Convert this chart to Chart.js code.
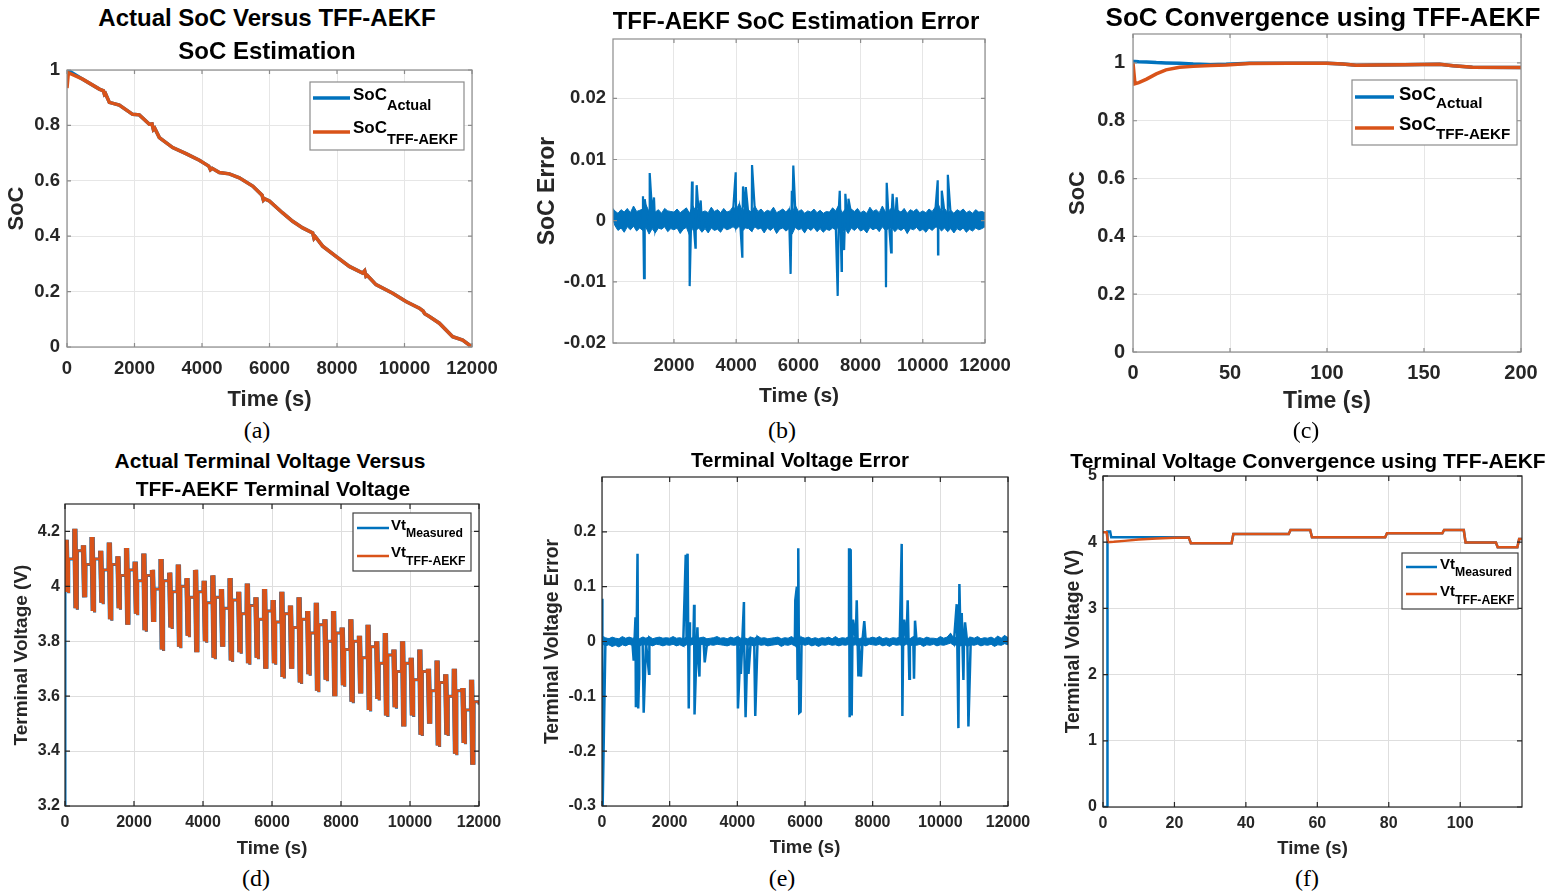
<!DOCTYPE html>
<html>
<head>
<meta charset="utf-8">
<title>TFF-AEKF SoC and terminal voltage</title>
<script src="https://cdn.jsdelivr.net/npm/chart.js@4.4.1/dist/chart.umd.min.js"></script>
<style>
  html, body { margin: 0; padding: 0; background: #fff; }
  body { position: relative; width: 1567px; height: 893px; overflow: hidden; font-family: "Liberation Sans", Arial, sans-serif; }
  canvas { position: absolute; }
  .ttl { position: absolute; font-weight: bold; color: #000; white-space: nowrap; line-height: 1; transform: translate(-50%, -50%); }
  .cap { position: absolute; font-family: "Liberation Serif", "Times New Roman", serif; font-size: 24px; line-height: 1; color: #000; transform: translate(-50%, -50%); }
</style>
</head>
<body>
<canvas id="chartA"></canvas>
<canvas id="chartB"></canvas>
<canvas id="chartC"></canvas>
<canvas id="chartD"></canvas>
<canvas id="chartE"></canvas>
<canvas id="chartF"></canvas>

<div class="ttl" style="left:267px;top:18px;font-size:24px">Actual SoC Versus TFF-AEKF</div>
<div class="ttl" style="left:267px;top:51px;font-size:24px">SoC Estimation</div>
<div class="ttl" style="left:796px;top:21px;font-size:24px">TFF-AEKF SoC Estimation Error</div>
<div class="ttl" style="left:1323px;top:17px;font-size:26px">SoC Convergence using TFF-AEKF</div>
<div class="ttl" style="left:270px;top:460px;font-size:21px">Actual Terminal Voltage Versus</div>
<div class="ttl" style="left:273px;top:488px;font-size:21px">TFF-AEKF Terminal Voltage</div>
<div class="ttl" style="left:800px;top:460px;font-size:20.5px">Terminal Voltage Error</div>
<div class="ttl" style="left:1308px;top:460px;font-size:21px">Terminal Voltage Convergence using TFF-AEKF</div>

<div class="cap" style="left:257px;top:430px">(a)</div>
<div class="cap" style="left:782px;top:430px">(b)</div>
<div class="cap" style="left:1306px;top:430px">(c)</div>
<div class="cap" style="left:256px;top:878px">(d)</div>
<div class="cap" style="left:782px;top:878px">(e)</div>
<div class="cap" style="left:1307px;top:878px">(f)</div>

<script>
Chart.defaults.font.family = '"Liberation Sans", Arial, sans-serif';
const BLUE = '#0072BD';
const ORANGE = '#D95319';
const INK = '#262626';

// tick lists
const timeTicks = [0, 2000, 4000, 6000, 8000, 10000, 12000];
const timeLabels = ['0', '2000', '4000', '6000', '8000', '10000', '12000'];
const bTimeTicks = [2000, 4000, 6000, 8000, 10000, 12000];
const bTimeLabels = ['2000', '4000', '6000', '8000', '10000', '12000'];
const socTicks = [0, 0.2, 0.4, 0.6, 0.8, 1];
const socLabels = ['0', '0.2', '0.4', '0.6', '0.8', '1'];
const bErrTicks = [-0.02, -0.01, 0, 0.01, 0.02];
const bErrLabels = ['-0.02', '-0.01', '0', '0.01', '0.02'];
const cTimeTicks = [0, 50, 100, 150, 200];
const cTimeLabels = ['0', '50', '100', '150', '200'];
const dVoltTicks = [3.2, 3.4, 3.6, 3.8, 4.0, 4.2];
const dVoltLabels = ['3.2', '3.4', '3.6', '3.8', '4', '4.2'];
const eErrTicks = [-0.3, -0.2, -0.1, 0, 0.1, 0.2];
const eErrLabels = ['-0.3', '-0.2', '-0.1', '0', '0.1', '0.2'];
const fTimeTicks = [0, 20, 40, 60, 80, 100];
const fTimeLabels = ['0', '20', '40', '60', '80', '100'];
const fVoltTicks = [0, 1, 2, 3, 4, 5];
const fVoltLabels = ['0', '1', '2', '3', '4', '5'];

// (a) SoC actual vs TFF-AEKF
const socTime = [0, 40, 464, 958, 1080, 1110, 1140, 1254, 1550, 1945, 2143, 2440, 2520, 2560, 2600, 2736, 3131, 3526, 3921, 4200,
  4250, 4300, 4514, 4810, 5106, 5501, 5780, 5820, 5860, 5995, 6390, 6686, 6983, 7279, 7320, 7360, 7575, 7970, 8365, 8760,
  8820, 8860, 8900, 9155, 9649, 10044, 10440, 10550, 10600, 10736, 11032, 11427, 11723, 12000];
const socActual = [1.0, 0.998, 0.967, 0.931, 0.925, 0.912, 0.915, 0.883, 0.873, 0.84, 0.838, 0.804, 0.805, 0.785, 0.79, 0.756, 0.72, 0.698, 0.674, 0.653,
  0.64, 0.645, 0.63, 0.625, 0.611, 0.581, 0.548, 0.53, 0.535, 0.527, 0.484, 0.454, 0.43, 0.412, 0.392, 0.398, 0.364, 0.327, 0.291, 0.267,
  0.275, 0.255, 0.258, 0.225, 0.194, 0.164, 0.14, 0.13, 0.12, 0.11, 0.086, 0.037, 0.025, 0.0];
const socEstimate = [0.935, 0.99, 0.967, 0.931, 0.925, 0.912, 0.915, 0.883, 0.873, 0.84, 0.838, 0.804, 0.805, 0.785, 0.79, 0.756, 0.72, 0.698, 0.674, 0.653,
  0.64, 0.645, 0.63, 0.625, 0.611, 0.581, 0.548, 0.53, 0.535, 0.527, 0.484, 0.454, 0.43, 0.412, 0.392, 0.398, 0.364, 0.327, 0.291, 0.267,
  0.275, 0.255, 0.258, 0.225, 0.194, 0.164, 0.14, 0.13, 0.12, 0.11, 0.086, 0.037, 0.025, 0.0];

// (b) SoC error: samples every 100 s, a noise band (upper/lower edge) and spikes [time, error]
const noiseStep = 100;
const bErrNoise = [
  0.0015, 0.0008, -0.0006, 0.0004, -0.0012, 0.0010, -0.0003, 0.0016, -0.0008, 0.0006,
  -0.0010, 0.0020, -0.0005, 0.0012, -0.0014, 0.0007, -0.0002, 0.0013, -0.0011, 0.0004,
  -0.0007, 0.0011, -0.0013, 0.0009, 0.0002, -0.0016, 0.0018, -0.0004, 0.0010, -0.0009,
  0.0005, -0.0012, 0.0014, -0.0003, 0.0008, -0.0010, 0.0012, -0.0006, 0.0003, 0.0015,
  -0.0004, 0.0021, -0.0008, 0.0013, 0.0006, -0.0009, 0.0017, -0.0002, 0.0011, -0.0012,
  0.0007, -0.0005, 0.0014, -0.0013, 0.0003, 0.0010, -0.0008, 0.0012, -0.0015, 0.0018,
  -0.0006, 0.0009, -0.0014, 0.0005, -0.0003, 0.0011, -0.0010, 0.0007, -0.0012, 0.0004,
  -0.0008, 0.0013, -0.0005, 0.0019, -0.0011, 0.0008, -0.0013, 0.0010, -0.0004, 0.0012,
  -0.0009, 0.0006, -0.0012, 0.0014, -0.0003, 0.0009, -0.0010, 0.0016, -0.0007, 0.0005,
  0.0013, -0.0011, 0.0008, -0.0006, 0.0012, -0.0014, 0.0007, -0.0002, 0.0011, -0.0009,
  0.0006, -0.0012, 0.0010, -0.0005, 0.0014, 0.0020, -0.0008, 0.0012, -0.0010, 0.0007,
  -0.0013, 0.0009, -0.0004, 0.0011, -0.0012, 0.0006, -0.0009, 0.0010, -0.0007, 0.0004,
  -0.0002];
const bBandUpper = [
  0.0022, 0.0016, 0.0012, 0.0018, 0.0014, 0.0020, 0.0013, 0.0024, 0.0015, 0.0017,
  0.0019, 0.0026, 0.0015, 0.0021, 0.0014, 0.0018, 0.0012, 0.0020, 0.0016, 0.0015,
  0.0014, 0.0019, 0.0013, 0.0017, 0.0021, 0.0012, 0.0025, 0.0016, 0.0019, 0.0014,
  0.0016, 0.0013, 0.0022, 0.0015, 0.0018, 0.0013, 0.0020, 0.0014, 0.0016, 0.0023,
  0.0018, 0.0028, 0.0016, 0.0021, 0.0017, 0.0014, 0.0024, 0.0015, 0.0019, 0.0013,
  0.0017, 0.0015, 0.0022, 0.0013, 0.0016, 0.0019, 0.0014, 0.0020, 0.0012, 0.0025,
  0.0015, 0.0018, 0.0012, 0.0016, 0.0014, 0.0019, 0.0013, 0.0017, 0.0012, 0.0015,
  0.0014, 0.0021, 0.0016, 0.0026, 0.0013, 0.0018, 0.0012, 0.0019, 0.0015, 0.0020,
  0.0013, 0.0016, 0.0012, 0.0022, 0.0015, 0.0018, 0.0013, 0.0024, 0.0014, 0.0016,
  0.0021, 0.0013, 0.0017, 0.0014, 0.0020, 0.0012, 0.0018, 0.0015, 0.0019, 0.0013,
  0.0016, 0.0013, 0.0019, 0.0015, 0.0022, 0.0027, 0.0014, 0.0020, 0.0013, 0.0017,
  0.0012, 0.0018, 0.0015, 0.0019, 0.0013, 0.0016, 0.0012, 0.0018, 0.0014, 0.0015,
  0.0013];
const bBandLower = [
  0.0008, -0.0008, -0.0016, -0.0012, -0.0019, -0.0010, -0.0015, -0.0009, -0.0017, -0.0012,
  -0.0016, -0.0011, -0.0022, -0.0013, -0.0020, -0.0012, -0.0014, -0.0010, -0.0018, -0.0013,
  -0.0015, -0.0012, -0.0021, -0.0014, -0.0011, -0.0024, -0.0013, -0.0016, -0.0012, -0.0019,
  -0.0013, -0.0020, -0.0012, -0.0016, -0.0014, -0.0019, -0.0011, -0.0015, -0.0013, -0.0010,
  -0.0014, -0.0009, -0.0017, -0.0012, -0.0013, -0.0018, -0.0010, -0.0014, -0.0012, -0.0020,
  -0.0012, -0.0016, -0.0011, -0.0021, -0.0014, -0.0012, -0.0017, -0.0013, -0.0022, -0.0011,
  -0.0015, -0.0013, -0.0020, -0.0012, -0.0016, -0.0011, -0.0018, -0.0013, -0.0019, -0.0014,
  -0.0016, -0.0012, -0.0015, -0.0010, -0.0019, -0.0013, -0.0021, -0.0012, -0.0016, -0.0011,
  -0.0017, -0.0014, -0.0020, -0.0011, -0.0015, -0.0012, -0.0018, -0.0010, -0.0016, -0.0013,
  -0.0011, -0.0018, -0.0013, -0.0016, -0.0012, -0.0021, -0.0013, -0.0015, -0.0011, -0.0017,
  -0.0014, -0.0019, -0.0012, -0.0016, -0.0011, -0.0010, -0.0017, -0.0012, -0.0018, -0.0013,
  -0.0020, -0.0013, -0.0016, -0.0012, -0.0019, -0.0014, -0.0017, -0.0012, -0.0015, -0.0013,
  -0.0010];
const bErrSpikes = [
  [1004, 0.0040], [1037, -0.0094], [1060, 0.0035], [1220, 0.0078], [1358, 0.0038],
  [2505, -0.0107], [2580, 0.0064], [2690, -0.0044], [2730, 0.0058], [2860, 0.0033],
  [3985, 0.0079], [4195, -0.0059], [4220, 0.0056], [4310, 0.0055], [4510, 0.0091],
  [5750, -0.0087], [5790, 0.0049], [5837, 0.0090],
  [7264, -0.0123], [7330, 0.0049], [7390, -0.0082], [7470, -0.0048], [7510, 0.0044], [7610, 0.0036],
  [8817, -0.0109], [8840, 0.0062], [8980, -0.0052], [9030, 0.0044], [9160, 0.0038],
  [10480, 0.0066], [10490, -0.0055], [10610, 0.0049], [10650, 0.0033], [10805, 0.0075]];

// (c) SoC convergence, first 200 s
const cTime = [0, 1, 3, 7, 12, 17, 24, 31, 40, 48, 60, 80, 100, 108, 115, 125, 140, 158, 165, 175, 200];
const cActual = [1.005, 1.005, 1.004, 1.003, 1.001, 1.0, 0.999, 0.996, 0.994, 0.995, 0.999, 0.999, 0.999, 0.996, 0.992, 0.993, 0.994, 0.995, 0.99, 0.985, 0.984];
const cEstimate = [1.0, 0.928, 0.932, 0.944, 0.962, 0.976, 0.985, 0.988, 0.991, 0.993, 0.998, 0.999, 0.999, 0.996, 0.992, 0.993, 0.994, 0.995, 0.99, 0.985, 0.984];

// (d) terminal voltage: pulse cycles, top / bottom of each burst and the rest level after it
const dCycleTime = [0, 250, 500, 750, 1000, 1250, 1500, 1750, 2000, 2250, 2500, 2750, 3000, 3250, 3500, 3750,
  4000, 4250, 4500, 4750, 5000, 5250, 5500, 5750, 6000, 6250, 6500, 6750, 7000, 7250, 7500, 7750,
  8000, 8250, 8500, 8750, 9000, 9250, 9500, 9750, 10000, 10250, 10500, 10750, 11000, 11250, 11500, 11750];
const dHigh = [4.17, 4.21, 4.15, 4.18, 4.13, 4.16, 4.11, 4.14, 4.09, 4.12, 4.06, 4.10, 4.05, 4.08, 4.03, 4.06,
  4.02, 4.04, 3.99, 4.03, 3.98, 4.01, 3.96, 3.99, 3.95, 3.98, 3.93, 3.96, 3.91, 3.94, 3.88, 3.91,
  3.85, 3.88, 3.82, 3.86, 3.80, 3.83, 3.77, 3.80, 3.74, 3.77, 3.70, 3.73, 3.68, 3.70, 3.63, 3.66];
const dLow = [3.98, 3.92, 3.96, 3.91, 3.94, 3.88, 3.92, 3.86, 3.90, 3.84, 3.87, 3.77, 3.85, 3.78, 3.82, 3.76,
  3.80, 3.74, 3.78, 3.73, 3.76, 3.72, 3.74, 3.70, 3.72, 3.67, 3.70, 3.65, 3.68, 3.62, 3.66, 3.60,
  3.64, 3.58, 3.61, 3.55, 3.59, 3.53, 3.56, 3.49, 3.53, 3.46, 3.50, 3.42, 3.46, 3.39, 3.43, 3.35];
const dRest = [4.10, 4.13, 4.08, 4.10, 4.06, 4.08, 4.04, 4.06, 4.02, 4.04, 3.99, 4.02, 3.98, 4.00, 3.96, 3.98,
  3.94, 3.96, 3.92, 3.95, 3.90, 3.93, 3.88, 3.91, 3.87, 3.90, 3.85, 3.88, 3.83, 3.86, 3.80, 3.83,
  3.77, 3.80, 3.74, 3.78, 3.72, 3.75, 3.69, 3.72, 3.66, 3.69, 3.62, 3.65, 3.60, 3.62, 3.55, 3.58];
const dEnd = [12000, 3.57];
const dMeasuredStart = [0, 3.0];

// (e) terminal voltage error: samples every 100 s, a noise band and spikes [time, error]
const eErrNoise = [
  0.005, -0.004, 0.003, -0.006, 0.002, -0.003, 0.004, -0.002, 0.005, -0.003,
  0.004, -0.005, 0.003, -0.002, 0.005, -0.004, 0.002, 0.004, -0.003, 0.003,
  -0.002, 0.005, -0.004, 0.003, -0.005, 0.004, -0.003, 0.002, -0.004, 0.003,
  0.004, -0.005, 0.002, -0.003, 0.005, -0.002, 0.003, -0.004, 0.004, -0.003,
  0.005, -0.004, 0.003, -0.002, 0.004, -0.005, 0.006, -0.003, 0.003, -0.004,
  0.002, -0.003, 0.004, -0.005, 0.003, -0.002, 0.005, -0.004, 0.003, 0.005,
  -0.003, 0.004, -0.004, 0.002, -0.005, 0.003, -0.002, 0.004, -0.003, 0.005,
  -0.004, 0.003, -0.002, 0.006, -0.003, 0.004, -0.006, 0.003, -0.004, 0.002,
  0.004, -0.003, 0.005, -0.004, 0.002, -0.005, 0.003, -0.002, 0.004, -0.003,
  0.003, -0.004, 0.005, -0.002, 0.003, -0.005, 0.004, -0.003, 0.002, -0.004,
  0.005, -0.003, 0.004, 0.012, -0.002, 0.005, -0.004, 0.003, -0.005, 0.004,
  -0.003, 0.005, -0.004, 0.003, -0.002, 0.004, -0.005, 0.006, -0.003, 0.008,
  0.002];
const eBandUpper = [
  0.010, 0.007, 0.005, 0.008, 0.006, 0.005, 0.009, 0.006, 0.008, 0.006,
  0.007, 0.005, 0.008, 0.006, 0.009, 0.005, 0.007, 0.008, 0.006, 0.007,
  0.006, 0.009, 0.006, 0.007, 0.005, 0.008, 0.006, 0.007, 0.005, 0.007,
  0.008, 0.005, 0.006, 0.007, 0.009, 0.006, 0.007, 0.005, 0.008, 0.006,
  0.009, 0.006, 0.007, 0.005, 0.008, 0.006, 0.010, 0.006, 0.007, 0.005,
  0.006, 0.007, 0.008, 0.005, 0.007, 0.006, 0.009, 0.005, 0.007, 0.008,
  0.006, 0.008, 0.005, 0.007, 0.005, 0.007, 0.006, 0.008, 0.005, 0.009,
  0.005, 0.007, 0.006, 0.009, 0.006, 0.008, 0.005, 0.007, 0.006, 0.006,
  0.008, 0.006, 0.009, 0.005, 0.007, 0.005, 0.007, 0.006, 0.008, 0.006,
  0.007, 0.005, 0.009, 0.006, 0.007, 0.005, 0.008, 0.006, 0.006, 0.005,
  0.009, 0.006, 0.008, 0.015, 0.006, 0.009, 0.005, 0.007, 0.005, 0.008,
  0.006, 0.009, 0.005, 0.007, 0.006, 0.008, 0.005, 0.010, 0.006, 0.011,
  0.007];
const eBandLower = [
  -0.004, -0.008, -0.006, -0.009, -0.007, -0.010, -0.006, -0.008, -0.005, -0.007,
  -0.006, -0.009, -0.005, -0.007, -0.006, -0.008, -0.005, -0.006, -0.008, -0.006,
  -0.007, -0.005, -0.008, -0.006, -0.009, -0.006, -0.007, -0.005, -0.008, -0.006,
  -0.005, -0.009, -0.006, -0.007, -0.005, -0.006, -0.007, -0.008, -0.006, -0.007,
  -0.006, -0.008, -0.005, -0.007, -0.006, -0.009, -0.005, -0.007, -0.006, -0.008,
  -0.007, -0.006, -0.005, -0.009, -0.006, -0.007, -0.005, -0.008, -0.006, -0.005,
  -0.007, -0.005, -0.008, -0.006, -0.009, -0.006, -0.007, -0.005, -0.007, -0.006,
  -0.008, -0.006, -0.007, -0.005, -0.007, -0.006, -0.009, -0.006, -0.008, -0.005,
  -0.006, -0.007, -0.005, -0.008, -0.006, -0.009, -0.005, -0.007, -0.006, -0.008,
  -0.005, -0.008, -0.006, -0.007, -0.005, -0.009, -0.006, -0.007, -0.005, -0.008,
  -0.006, -0.007, -0.005, -0.003, -0.007, -0.006, -0.008, -0.005, -0.009, -0.006,
  -0.007, -0.005, -0.008, -0.006, -0.007, -0.005, -0.009, -0.006, -0.007, -0.004,
  -0.006];
const eErrSpikes = [
  [2, 0.078], [20, -0.33],
  [937, -0.035], [990, 0.044], [1003, -0.120], [1050, 0.160], [1070, -0.122], [1094, -0.068], [1232, -0.130], [1390, -0.059],
  [2475, 0.158], [2505, 0.150], [2530, 0.160], [2564, -0.122], [2590, 0.035], [2722, 0.067], [2735, -0.133], [2820, 0.026], [2850, -0.035], [2880, -0.064], [3036, -0.038],
  [4018, -0.122], [4105, -0.059], [4195, 0.072], [4244, -0.138], [4330, -0.059], [4530, -0.136],
  [5713, 0.075], [5760, 0.100], [5780, -0.070], [5801, 0.170], [5830, -0.130], [5870, -0.128],
  [7302, 0.170], [7320, -0.138], [7350, 0.168], [7380, -0.135], [7420, 0.040], [7529, 0.075], [7578, -0.064], [7655, -0.064], [7752, 0.037],
  [8858, 0.178], [8878, -0.136], [8930, 0.040], [9035, 0.075], [9084, -0.068], [9222, -0.068], [9252, 0.038],
  [10484, 0.068], [10534, -0.158], [10563, 0.105], [10632, 0.052], [10682, -0.070], [10730, 0.035], [10830, -0.155]];

// (f) terminal voltage convergence
const fMeasTime = [0, 1.2, 1.25, 2.0, 2.3, 24, 24.6, 36, 36.5, 52, 52.5, 58, 58.5, 79, 79.5, 95, 95.5, 101, 101.5, 110, 110.5, 116, 116.5, 117.3];
const fMeasured = [0, 0, 4.16, 4.16, 4.075, 4.075, 3.985, 3.985, 4.125, 4.125, 4.185, 4.185, 4.075, 4.075, 4.135, 4.135, 4.185, 4.185, 3.995, 3.995, 3.925, 3.925, 4.05, 4.05];
const fEstTime = [0, 1.0, 1.4, 3, 6, 10, 15, 20, 24, 24.6, 36, 36.5, 52, 52.5, 58, 58.5, 79, 79.5, 95, 95.5, 101, 101.5, 110, 110.5, 116, 116.5, 117.3];
const fEstimate = [4.15, 4.15, 4.0, 4.005, 4.02, 4.04, 4.055, 4.068, 4.072, 3.985, 3.985, 4.125, 4.125, 4.185, 4.185, 4.075, 4.075, 4.135, 4.135, 4.185, 4.185, 3.995, 3.995, 3.925, 3.925, 4.05, 4.05];

// ---- helpers ----
function pts(xs, ys) {
  return xs.map((x, i) => ({x: x, y: ys[i]}));
}
function sampled(vals) {
  return vals.map((v, i) => ({x: i * noiseStep, y: v}));
}
function noisePlusSpikes(noise, spikes) {
  return sampled(noise)
    .concat(spikes.map(s => ({x: s[0], y: s[1]})))
    .sort((p, q) => p.x - q.x);
}
function line(data, color, width, order) {
  return {data: data, borderColor: color, borderWidth: width, pointRadius: 0, fill: false, tension: 0, order: order};
}
// two datasets, the first one filled down to the second
function band(upper, lower, color) {
  return [
    {data: sampled(upper), borderColor: color, backgroundColor: color, borderWidth: 1, pointRadius: 0, fill: '+1', tension: 0, order: 2},
    {data: sampled(lower), borderColor: color, borderWidth: 1, pointRadius: 0, fill: false, tension: 0, order: 3}
  ];
}

const bLine = noisePlusSpikes(bErrNoise, bErrSpikes);
const eLine = noisePlusSpikes(eErrNoise, eErrSpikes);

// each cycle: a burst of pulses between top and bottom, then the rest level until the next burst
const dLine = [];
dCycleTime.forEach((t, i) => {
  dLine.push({x: t, y: dHigh[i]}, {x: t + 35, y: dLow[i]}, {x: t + 70, y: dHigh[i]}, {x: t + 105, y: dLow[i]},
    {x: t + 110, y: dRest[i]}, {x: t + 245, y: dRest[i]});
});
dLine.push({x: dEnd[0], y: dEnd[1]});
const dMeasLine = [{x: dMeasuredStart[0], y: dMeasuredStart[1]}].concat(dLine);

// box with inward ticks, like the original axes
const framePlugin = {
  id: 'frame',
  afterDraw(chart, args, o) {
    const {ctx, chartArea: a, scales} = chart;
    ctx.save();
    ctx.strokeStyle = o.color;
    ctx.lineWidth = o.width;
    ctx.strokeRect(a.left, a.top, a.right - a.left, a.bottom - a.top);
    ctx.beginPath();
    scales.x.ticks.forEach(t => {
      const px = scales.x.getPixelForValue(t.value);
      ctx.moveTo(px, a.bottom); ctx.lineTo(px, a.bottom - o.tick);
      ctx.moveTo(px, a.top); ctx.lineTo(px, a.top + o.tick);
    });
    scales.y.ticks.forEach(t => {
      const py = scales.y.getPixelForValue(t.value);
      ctx.moveTo(a.left, py); ctx.lineTo(a.left + o.tick, py);
      ctx.moveTo(a.right, py); ctx.lineTo(a.right - o.tick, py);
    });
    ctx.stroke();
    ctx.restore();
  }
};

// legend with subscripts
const subLegend = {
  id: 'subLegend',
  afterDraw(chart, args, o) {
    if (!o.rows) return;
    const ctx = chart.ctx, ox = o.ox, oy = o.oy;
    const bx = o.box;
    ctx.save();
    ctx.fillStyle = '#fff';
    ctx.fillRect(bx[0] - ox, bx[1] - oy, bx[2] - bx[0], bx[3] - bx[1]);
    ctx.strokeStyle = o.edge;
    ctx.lineWidth = 1.2;
    ctx.strokeRect(bx[0] - ox, bx[1] - oy, bx[2] - bx[0], bx[3] - bx[1]);
    o.rows.forEach(r => {
      ctx.strokeStyle = chart.data.datasets[r.ds].borderColor;
      ctx.lineWidth = o.lineWidth;
      ctx.beginPath();
      ctx.moveTo(o.lx1 - ox, r.ly - oy);
      ctx.lineTo(o.lx2 - ox, r.ly - oy);
      ctx.stroke();
      ctx.fillStyle = '#000';
      ctx.textAlign = 'left';
      ctx.textBaseline = 'middle';
      ctx.font = 'bold ' + o.mainSize + 'px ' + Chart.defaults.font.family;
      ctx.fillText(r.main, o.tx - ox, r.my - oy);
      const w = ctx.measureText(r.main).width;
      ctx.font = 'bold ' + o.subSize + 'px ' + Chart.defaults.font.family;
      ctx.fillText(r.sub, o.tx - ox + w, r.sy - oy);
    });
    ctx.restore();
  }
};

function makePanel(p) {
  const cv = document.getElementById(p.id);
  const b = p.box, a = p.area;
  cv.width = b.w;
  cv.height = b.h;
  cv.style.left = b.x + 'px';
  cv.style.top = b.y + 'px';
  const tickFont = {size: p.tickSize, weight: 'bold'};
  return new Chart(cv, {
    type: 'line',
    data: {datasets: p.datasets},
    options: {
      responsive: false,
      animation: false,
      events: [],
      layout: {padding: {left: 0, top: a.t - b.y, right: b.x + b.w - a.r, bottom: 0}},
      plugins: {
        legend: {display: false},
        tooltip: {enabled: false},
        frame: p.frame,
        subLegend: p.legend ? Object.assign({ox: b.x, oy: b.y}, p.legend) : {}
      },
      scales: {
        x: {
          type: 'linear', min: p.xMin, max: p.xMax,
          afterBuildTicks: s => { s.ticks = p.xTicks.map(v => ({value: v})); },
          afterFit: s => { s.height = b.y + b.h - a.b; },
          grid: {color: p.grid, drawTicks: false},
          border: {display: false},
          ticks: {autoSkip: false, maxRotation: 0, color: INK, font: tickFont,
            padding: p.xLabelY - a.b - p.tickSize * 0.6,
            callback: (v, i) => p.xLabels[i]},
          title: {display: true, text: p.xTitle, color: INK, font: {size: p.xTitleSize, weight: 'bold'},
            padding: {top: 0, bottom: b.y + b.h - p.xTitleY - p.xTitleSize * 0.6}}
        },
        y: {
          type: 'linear', min: p.yMin, max: p.yMax,
          afterBuildTicks: s => { s.ticks = p.yTicks.map(v => ({value: v})); },
          afterFit: s => { s.width = a.l - b.x; },
          grid: {color: p.grid, drawTicks: false},
          border: {display: false},
          ticks: {autoSkip: false, color: INK, font: tickFont,
            padding: a.l - p.yLabelR,
            callback: (v, i) => p.yLabels[i]},
          title: {display: true, text: p.yTitle, color: INK, font: {size: p.yTitleSize, weight: 'bold'},
            padding: {top: p.yTitleX - b.x - p.yTitleSize * 0.6, bottom: 0}}
        }
      }
    },
    plugins: [framePlugin, subLegend]
  });
}

const lightFrame = {color: '#8c8c8c', width: 1.2, tick: 4};
const darkFrame = {color: '#262626', width: 1.2, tick: 5};

makePanel({
  id: 'chartA', box: {x: 0, y: 40, w: 520, h: 375}, area: {l: 67, t: 70, r: 472, b: 347},
  xMin: 0, xMax: 12000, xTicks: timeTicks, xLabels: timeLabels,
  yMin: 0, yMax: 1, yTicks: socTicks, yLabels: socLabels,
  tickSize: 18.5, xLabelY: 369, yLabelR: 60,
  xTitle: 'Time (s)', xTitleSize: 22, xTitleY: 400,
  yTitle: 'SoC', yTitleSize: 22, yTitleX: 17,
  grid: '#e6e6e6', frame: lightFrame,
  legend: {box: [310, 82, 464, 150], edge: '#8c8c8c', lineWidth: 3.5, lx1: 313, lx2: 350, tx: 353, mainSize: 17, subSize: 14.5,
    rows: [{ds: 0, main: 'SoC', sub: 'Actual', ly: 98, my: 95, sy: 106}, {ds: 1, main: 'SoC', sub: 'TFF-AEKF', ly: 132, my: 128, sy: 140}]},
  datasets: [line(pts(socTime, socActual), BLUE, 3.5, 2), line(pts(socTime, socEstimate), ORANGE, 3.5, 1)]
});

makePanel({
  id: 'chartB', box: {x: 520, y: 10, w: 512, h: 405}, area: {l: 613, t: 39, r: 985, b: 343},
  xMin: 40, xMax: 12000, xTicks: bTimeTicks, xLabels: bTimeLabels,
  yMin: -0.02, yMax: 0.0297, yTicks: bErrTicks, yLabels: bErrLabels,
  tickSize: 18.5, xLabelY: 366, yLabelR: 606,
  xTitle: 'Time (s)', xTitleSize: 21, xTitleY: 396,
  yTitle: 'SoC Error', yTitleSize: 23, yTitleX: 548,
  grid: '#e6e6e6', frame: lightFrame,
  datasets: [line(bLine, BLUE, 2.2, 1)].concat(band(bBandUpper, bBandLower, BLUE))
});

makePanel({
  id: 'chartC', box: {x: 1040, y: 0, w: 527, h: 420}, area: {l: 1133, t: 34, r: 1521, b: 352},
  xMin: 0, xMax: 200, xTicks: cTimeTicks, xLabels: cTimeLabels,
  yMin: 0, yMax: 1.1, yTicks: socTicks, yLabels: socLabels,
  tickSize: 20, xLabelY: 373, yLabelR: 1125,
  xTitle: 'Time (s)', xTitleSize: 23, xTitleY: 402,
  yTitle: 'SoC', yTitleSize: 22, yTitleX: 1078,
  grid: '#e6e6e6', frame: lightFrame,
  legend: {box: [1352, 80, 1517, 145], edge: '#8c8c8c', lineWidth: 3.5, lx1: 1355, lx2: 1394, tx: 1399, mainSize: 18.5, subSize: 15.2,
    rows: [{ds: 0, main: 'SoC', sub: 'Actual', ly: 97, my: 95, sy: 104}, {ds: 1, main: 'SoC', sub: 'TFF-AEKF', ly: 128, my: 125, sy: 135}]},
  datasets: [line(pts(cTime, cActual), BLUE, 3.5, 2), line(pts(cTime, cEstimate), ORANGE, 3.5, 1)]
});

makePanel({
  id: 'chartD', box: {x: 0, y: 480, w: 520, h: 385}, area: {l: 65, t: 504, r: 479, b: 806},
  xMin: 0, xMax: 12000, xTicks: timeTicks, xLabels: timeLabels,
  yMin: 3.2, yMax: 4.3, yTicks: dVoltTicks, yLabels: dVoltLabels,
  tickSize: 16, xLabelY: 823, yLabelR: 60,
  xTitle: 'Time (s)', xTitleSize: 18.5, xTitleY: 849,
  yTitle: 'Terminal Voltage (V)', yTitleSize: 19, yTitleX: 22,
  grid: '#dedede', frame: darkFrame,
  legend: {box: [353, 513, 471, 571], edge: '#404040', lineWidth: 2.5, lx1: 357, lx2: 389, tx: 391, mainSize: 15, subSize: 12.2,
    rows: [{ds: 0, main: 'Vt', sub: 'Measured', ly: 528, my: 526, sy: 534}, {ds: 1, main: 'Vt', sub: 'TFF-AEKF', ly: 556, my: 553, sy: 562}]},
  datasets: [line(dMeasLine, BLUE, 3.0, 2), line(dLine, ORANGE, 2.4, 1)]
});

makePanel({
  id: 'chartE', box: {x: 525, y: 450, w: 520, h: 415}, area: {l: 602, t: 477, r: 1008, b: 806},
  xMin: 0, xMax: 12000, xTicks: timeTicks, xLabels: timeLabels,
  yMin: -0.3, yMax: 0.3, yTicks: eErrTicks, yLabels: eErrLabels,
  tickSize: 16, xLabelY: 823, yLabelR: 596,
  xTitle: 'Time (s)', xTitleSize: 18.5, xTitleY: 848,
  yTitle: 'Terminal Voltage Error', yTitleSize: 19.3, yTitleX: 553,
  grid: '#dedede', frame: darkFrame,
  datasets: [line(eLine, BLUE, 2.5, 1)].concat(band(eBandUpper, eBandLower, BLUE))
});

makePanel({
  id: 'chartF', box: {x: 1045, y: 450, w: 522, h: 415}, area: {l: 1103, t: 476, r: 1522, b: 807},
  xMin: 0, xMax: 117.3, xTicks: fTimeTicks, xLabels: fTimeLabels,
  yMin: 0, yMax: 5, yTicks: fVoltTicks, yLabels: fVoltLabels,
  tickSize: 16, xLabelY: 824, yLabelR: 1097,
  xTitle: 'Time (s)', xTitleSize: 18.5, xTitleY: 849,
  yTitle: 'Terminal Voltage (V)', yTitleSize: 19.3, yTitleX: 1074,
  grid: '#dedede', frame: darkFrame,
  legend: {box: [1402, 553, 1518, 609], edge: '#404040', lineWidth: 2.5, lx1: 1406, lx2: 1437, tx: 1440, mainSize: 15, subSize: 12.2,
    rows: [{ds: 0, main: 'Vt', sub: 'Measured', ly: 567, my: 565, sy: 573}, {ds: 1, main: 'Vt', sub: 'TFF-AEKF', ly: 594, my: 592, sy: 601}]},
  datasets: [line(pts(fMeasTime, fMeasured), BLUE, 2.5, 2), line(pts(fEstTime, fEstimate), ORANGE, 2.5, 1)]
});
</script>
</body>
</html>
